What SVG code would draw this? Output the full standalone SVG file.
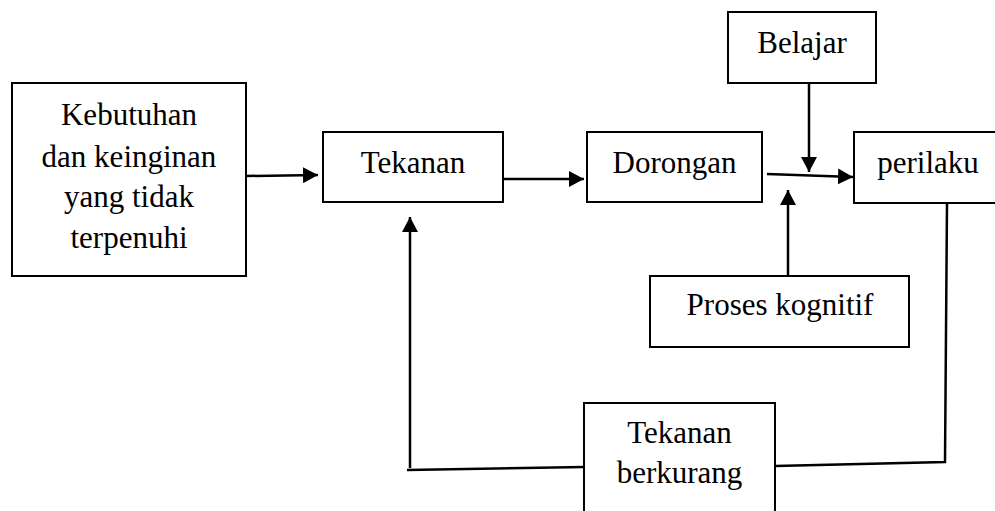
<svg xmlns="http://www.w3.org/2000/svg" width="995" height="511" viewBox="0 0 995 511">
  <style>
    .box { fill: #ffffff; stroke: #000000; stroke-width: 2; }
    .lbl { font-family: "Liberation Serif", "Times New Roman", serif; font-size: 31px; fill: #000000; text-anchor: middle; }
    .con { fill: none; stroke: #000000; stroke-width: 2.5; }
  </style>
  <defs>
    <marker id="ah" viewBox="0 0 15 16" refX="15" refY="8" markerWidth="15" markerHeight="16" markerUnits="userSpaceOnUse" orient="auto">
      <path d="M0,0 L15,8 L0,16 Z" fill="#000000"/>
    </marker>
  </defs>
  <rect width="995" height="511" fill="#ffffff"/>

  <g id="connectors">
    <path class="con" d="M246,176 L318,175" marker-end="url(#ah)"/>
    <path class="con" d="M503,179 L584,179" marker-end="url(#ah)"/>
    <path class="con" d="M767,174 L853,177" marker-end="url(#ah)"/>
    <path class="con" d="M809,83 L809,172" marker-end="url(#ah)"/>
    <path class="con" d="M788,276 L788,190" marker-end="url(#ah)"/>
    <path class="con" d="M947,203 L945,462 L775,466"/>
    <path class="con" d="M584,467 L407,470"/>
    <path class="con" d="M410,468 L410,217" marker-end="url(#ah)"/>
  </g>

  <g id="node-kebutuhan">
    <rect class="box" x="12" y="83" width="234" height="193"/>
    <text class="lbl" x="129" y="125">Kebutuhan</text>
    <text class="lbl" x="129" y="167">dan keinginan</text>
    <text class="lbl" x="129" y="207">yang tidak</text>
    <text class="lbl" x="129" y="248">terpenuhi</text>
  </g>

  <g id="node-tekanan">
    <rect class="box" x="323" y="132" width="180" height="70"/>
    <text class="lbl" x="413" y="173">Tekanan</text>
  </g>

  <g id="node-dorongan">
    <rect class="box" x="587" y="132" width="175" height="70"/>
    <text class="lbl" x="674.5" y="173">Dorongan</text>
  </g>

  <g id="node-belajar">
    <rect class="box" x="728" y="12" width="148" height="71"/>
    <text class="lbl" x="802" y="53">Belajar</text>
  </g>

  <g id="node-perilaku">
    <rect class="box" x="854" y="132" width="150" height="71"/>
    <text class="lbl" x="928" y="173">perilaku</text>
  </g>

  <g id="node-proses-kognitif">
    <rect class="box" x="650" y="276" width="259" height="71"/>
    <text class="lbl" x="780" y="315">Proses kognitif</text>
  </g>

  <g id="node-tekanan-berkurang">
    <rect class="box" x="584" y="403" width="191" height="120"/>
    <text class="lbl" x="679.5" y="443">Tekanan</text>
    <text class="lbl" x="679.5" y="483">berkurang</text>
  </g>
</svg>
